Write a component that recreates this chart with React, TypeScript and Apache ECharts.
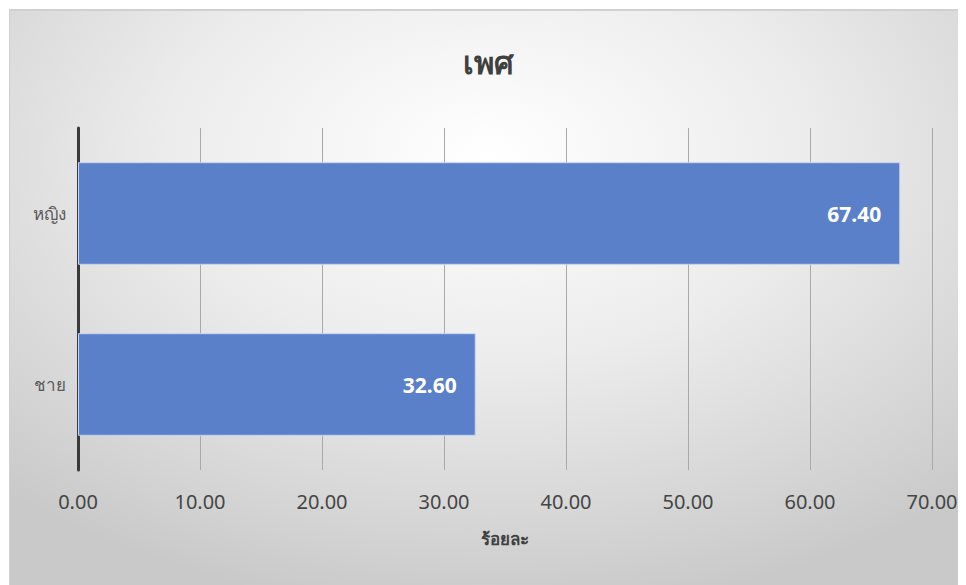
import React, { useEffect, useRef } from "react";
import * as echarts from "echarts";

const categories = ["ชาย", "หญิง"];
const values = [32.6, 67.4];
const titleText = "เพศ";
const xAxisName = "ร้อยละ";

export default function App() {
  const ref = useRef<HTMLDivElement>(null);
  useEffect(() => {
    if (!ref.current) return;
    const chart = echarts.init(ref.current, undefined, { renderer: "svg" });
    const font = "'Noto Sans', 'Open Sans', sans-serif";
    chart.setOption({
      animation: false,
      backgroundColor: "transparent",
      title: {
        text: titleText,
        left: "center",
        top: 30,
        textStyle: { fontFamily: font, fontSize: 31, fontWeight: "bold", color: "#404040" },
      },
      grid: { left: 68, right: 34, top: 117, bottom: 115 },
      xAxis: {
        type: "value",
        min: 0,
        max: 70,
        interval: 10,
        name: xAxisName,
        nameLocation: "middle",
        nameGap: 60,
        nameTextStyle: { fontFamily: font, fontSize: 17, fontWeight: "bold", color: "#404040" },
        axisLine: { show: false },
        axisTick: { show: false },
        axisLabel: {
          margin: 21,
          fontFamily: font,
          fontSize: 20,
          color: "#454545",
          formatter: (v: number) => v.toFixed(2),
        },
        splitLine: { show: true, lineStyle: { color: "#a9a9a9", width: 1 } },
      },
      yAxis: {
        type: "category",
        data: categories,
        axisLine: { show: true, lineStyle: { color: "#3a3a3a", width: 3 } },
        axisTick: { show: false },
        axisLabel: { margin: 12, fontFamily: font, fontSize: 17, color: "#595959" },
      },
      series: [
        {
          type: "bar",
          data: values,
          barCategoryGap: "40%",
          itemStyle: { color: "#5a80c9", borderColor: "#c9d5ee", borderWidth: 1 },
          label: {
            show: true,
            position: "insideRight",
            distance: 19,
            formatter: (p: any) => Number(p.value).toFixed(2),
            fontFamily: font,
            fontSize: 21,
            fontWeight: "bold",
            color: "#ffffff",
          },
        },
      ],
    });
    return () => chart.dispose();
  }, []);
  return (
    <div
      ref={ref}
      style={{
        width: 957,
        height: 576,
        marginTop: 1,
        marginLeft: 1,
        boxSizing: "border-box",
        borderTop: "2px solid #d0d0d0",
        borderLeft: "1px solid #d0d0d0",
        background: "radial-gradient(ellipse 75% 80% at 50% 25%, #ffffff 0%, #ececec 45%, #c9c9c9 100%)",
      }}
    />
  );
}
